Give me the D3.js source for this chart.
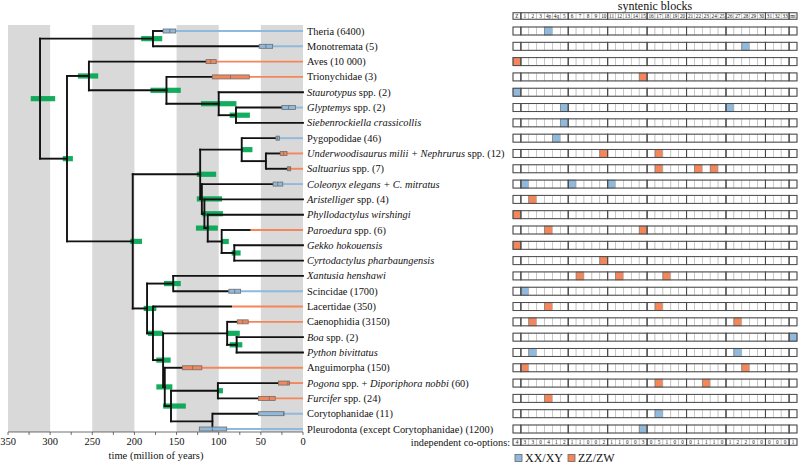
<!DOCTYPE html>
<html><head><meta charset="utf-8">
<script src="https://cdn.jsdelivr.net/npm/d3@7"></script>
<style>body{margin:0;background:#fff} svg{display:block} text{font-family:"Liberation Serif","Times New Roman",serif;fill:#111}</style>
</head><body><svg id="c" width="798" height="465"></svg>
<script>
// ---------- DATA ----------
const taxa = [
 "Theria (6400)","Monotremata (5)","Aves (10 000)","Trionychidae (3)",
 "*Staurotypus* spp. (2)","*Glyptemys* spp. (2)","*Siebenrockiella crassicollis*",
 "Pygopodidae (46)","*Underwoodisaurus milii + Nephrurus* spp. (12)","*Saltuarius* spp. (7)",
 "*Coleonyx elegans + C. mitratus*","*Aristelliger* spp. (4)","*Phyllodactylus wirshingi*",
 "*Paroedura* spp. (6)","*Gekko hokouensis*","*Cyrtodactylus pharbaungensis*","*Xantusia henshawi*",
 "Scincidae (1700)","Lacertidae (350)","Caenophidia (3150)","*Boa* spp. (2)","*Python bivittatus*",
 "Anguimorpha (150)","*Pogona* spp. + *Diporiphora nobbi* (60)","*Furcifer* spp. (24)",
 "Corytophanidae (11)","Pleurodonta (except Corytophanidae) (1200)"
];
// internal nodes: id, parent, age (Myr), credible interval [old, young]
const internalNodes = [
 {id:"root", parent:"", age:312, ci:[323,294]},
 {id:"mammalia", parent:"root", age:178, ci:[192,167]},
 {id:"sauria", parent:"root", age:280, ci:[285,273]},
 {id:"archelosauria", parent:"sauria", age:254, ci:[267,243]},
 {id:"testudines", parent:"archelosauria", age:162, ci:[181,145]},
 {id:"testudinoidea", parent:"testudines", age:100, ci:[121,79]},
 {id:"geoemydidae", parent:"testudinoidea", age:79.5, ci:[87,63]},
 {id:"squamata", parent:"sauria", age:202, ci:[205,191]},
 {id:"gekkota", parent:"squamata", age:122, ci:[126,103]},
 {id:"pygopodoidea", parent:"gekkota", age:72.7, ci:[73,60]},
 {id:"carphodactylidae", parent:"pygopodoidea", age:44, ci:null},
 {id:"gekkonoidea", parent:"gekkota", age:120, ci:[126,96]},
 {id:"g2", parent:"gekkonoidea", age:117, ci:[120,95]},
 {id:"g3", parent:"g2", age:113, ci:[127,101]},
 {id:"gekkonidae", parent:"g3", age:96.5, ci:[96,88]},
 {id:"gekkoninae", parent:"gekkonidae", age:81.5, ci:[84.6,74]},
 {id:"unidentata", parent:"squamata", age:185, ci:[189,174]},
 {id:"scinciformata", parent:"unidentata", age:154, ci:[165,145]},
 {id:"episquamata", parent:"unidentata", age:178, ci:[184,166]},
 {id:"toxicofera", parent:"episquamata", age:166, ci:[174,157]},
 {id:"serpentes", parent:"toxicofera", age:90, ci:[91,75]},
 {id:"booidea", parent:"serpentes", age:78.7, ci:[87,72]},
 {id:"angIgu", parent:"toxicofera", age:164, ci:[174,155]},
 {id:"iguania", parent:"angIgu", age:156.6, ci:[166,139]},
 {id:"acrodonta", parent:"iguania", age:101, ci:[101,95]},
 {id:"pleurodonta", parent:"iguania", age:107.5, ci:null}
];
const tipParent = ["mammalia","mammalia","archelosauria","testudines","testudinoidea","geoemydidae","geoemydidae",
 "pygopodoidea","carphodactylidae","carphodactylidae","gekkonoidea","g2","g3","gekkonidae","gekkoninae","gekkoninae",
 "scinciformata","scinciformata","episquamata","serpentes","booidea","booidea","angIgu","acrodonta","acrodonta",
 "pleurodonta","pleurodonta"];
// sex-chromosome system per tip: XY = XX/XY, ZW = ZZ/ZW
const sexSystem = ["XY","XY","ZW","ZW","XY","XY","XY","XY","ZW","ZW","XY","ZW","ZW","ZW","ZW","ZW","ZW",
 "XY","ZW","ZW","XY","XY","ZW","ZW","ZW","XY","XY"];
// branch colouring: age at which colour starts on tip branch (null = black)
const colourStart = [166,52,115,107.6,null,25,null,32,27,18.6,35.5,null,null,62,null,null,null,88,84,78,null,null,143,29,53,53,123];
// transition boxes [old, young, estimate]
const transitionBox = [[166,151,158],[52,36,44],[115,103,109.5],[107.6,63.7,86],null,[25,9,17],null,[32,28,30],
 [27,19,23],[18.6,14.6,16.5],[35.5,24,30],null,null,null,null,null,null,[88,74,81],null,[78,65,71.5],null,null,
 [143,120,131],[29,16,18],[53,33,40],[53,22.5,23],[123,90.5,107.5]];
const blockCols = ["Z","1","2","3","4p","4q","5","6","7","8","9","10","11","12","13","14","15","16","17","18","19",
 "20","21","22","23","24","25","26","27","28","29","30","31","32","33","mt"];
const blockGroups = [["Z"],["1","2","3","4p","4q","5"],["6","7","8","9","10"],["11","12","13","14","15"],
 ["16","17","18","19","20"],["21","22","23","24","25"],["26","27","28","29","30"],["31","32","33"],["mt"]];
const rowBlocks = [["4p"],["28"],["Z"],["15"],["Z"],["5","26"],["5"],["4q"],["10","17"],["17","22","24"],
 ["1","6","11"],["2"],["Z"],["4p","15"],["Z"],["10"],["7","12","18"],["1"],["4p","17"],["2","27"],["mt"],
 ["2","27"],["1","28"],["17","23"],["4p"],["17"],["15"]];
const coOptions = [4,3,3,0,4,1,2,1,1,0,0,2,1,1,0,0,3,0,5,1,0,0,0,1,1,1,0,1,2,2,0,0,0,0,0,1];
const timeTicks = [350,300,250,200,150,100,50,0];
const bands = [[350,300],[250,200],[150,100],[50,0]];

// ---------- STYLE ----------
const C = {XY:"#8fb9dd", ZW:"#f4865a", green:"#00a651", band:"#d9d9d9"};
const svg = d3.select("#c");
const x = d3.scaleLinear().domain([350,0]).range([8,303]);
const y = d3.scalePoint().domain(d3.range(taxa.length)).range([31,429]);

// bands
svg.append("g").selectAll("rect").data(bands).join("rect")
  .attr("x",d=>x(d[0])).attr("width",d=>x(d[1])-x(d[0]))
  .attr("y",25).attr("height",432-25).attr("fill",C.band);

// axis
const ax = svg.append("g");
ax.append("line").attr("x1",x(350)).attr("x2",x(0)).attr("y1",432).attr("y2",432).attr("stroke","#333").attr("stroke-width",0.7);
ax.selectAll("line.t").data(d3.range(350,-1,-25)).join("line").attr("class","t")
  .attr("x1",d=>x(d)).attr("x2",d=>x(d)).attr("y1",432).attr("y2",435).attr("stroke","#333").attr("stroke-width",0.7);
ax.selectAll("text").data(timeTicks).join("text")
  .attr("x",d=>x(d)).attr("y",444.5).attr("text-anchor","middle").attr("font-size",10.5).text(d=>d);
svg.append("text").attr("x",156).attr("y",459).attr("text-anchor","middle").attr("font-size",10.5).text("time (million of years)");

// hierarchy
const records = internalNodes.map(d=>({...d})).concat(taxa.map((t,i)=>({id:"t"+i, parent:tipParent[i], age:0, ci:null, tip:i})));
const root = d3.stratify().id(d=>d.id).parentId(d=>d.parent||null)(records);
root.eachAfter(n=>{
  if(n.data.tip!==undefined) n.yy = y(n.data.tip);
  else { const ys=n.children.map(c=>c.yy); n.yy=(d3.min(ys)+d3.max(ys))/2; n.y0=d3.min(ys); n.y1=d3.max(ys); }
});
const nodesAll = root.descendants();

// green CI bars
svg.append("g").selectAll("rect").data(nodesAll.filter(n=>n.data.ci)).join("rect")
  .attr("x",n=>x(n.data.ci[0])).attr("width",n=>x(n.data.ci[1])-x(n.data.ci[0]))
  .attr("y",n=>n.yy-2.6).attr("height",5.2).attr("fill",C.green).attr("opacity",0.92);

// branches
const br = svg.append("g").attr("fill","none").attr("stroke-linecap","square");
nodesAll.filter(n=>n.parent).forEach(n=>{
  const x0 = x(n.parent.data.age), x1 = x(n.data.age);
  const ti = n.data.tip;
  if(ti!==undefined && colourStart[ti]!==null){
    const xs = x(colourStart[ti]);
    br.append("line").attr("x1",x0).attr("x2",xs).attr("y1",n.yy).attr("y2",n.yy).attr("stroke","#111").attr("stroke-width",1.9).attr("stroke-linecap","butt");
    br.append("line").attr("x1",xs).attr("x2",x1).attr("y1",n.yy).attr("y2",n.yy).attr("stroke",C[sexSystem[ti]]).attr("stroke-width",1.9).attr("stroke-linecap","butt");
  } else {
    br.append("line").attr("x1",x0).attr("x2",x1).attr("y1",n.yy).attr("y2",n.yy).attr("stroke","#111").attr("stroke-width",1.9);
  }
});
nodesAll.filter(n=>n.children).forEach(n=>{
  br.append("line").attr("x1",x(n.data.age)).attr("x2",x(n.data.age)).attr("y1",n.y0).attr("y2",n.y1).attr("stroke","#111").attr("stroke-width",1.9);
});
// transition boxes
const bx = svg.append("g");
taxa.forEach((t,i)=>{
  const b = transitionBox[i]; if(!b) return;
  bx.append("rect").attr("x",x(b[0])).attr("width",x(b[1])-x(b[0])).attr("y",y(i)-2).attr("height",4)
    .attr("fill",C[sexSystem[i]]).attr("stroke","#6d6d6d").attr("stroke-width",0.8);
  bx.append("line").attr("x1",x(b[2])).attr("x2",x(b[2])).attr("y1",y(i)-2).attr("y2",y(i)+2).attr("stroke","#6d6d6d").attr("stroke-width",0.8);
});

// tip labels (with *italic* segments)
const lab = svg.append("g");
taxa.forEach((t,i)=>{
  const tx = lab.append("text").attr("x",307).attr("y",y(i)).attr("dy","0.34em").attr("font-size",10.4);
  t.split("*").forEach((s,k)=>{ if(s) tx.append("tspan").attr("font-style",k%2?"italic":"normal").text(s); });
});

// ---------- SYNTENIC BLOCK GRID ----------
const gx = d3.scaleBand().domain(blockCols).range([513,797]);
const bw = gx.bandwidth();
function drawRow(yc, h, hits, type, labels){
  const g = svg.append("g");
  g.selectAll("rect.c").data(blockCols).join("rect").attr("class","c")
    .attr("x",c=>gx(c)).attr("y",yc-h/2).attr("width",bw).attr("height",h)
    .attr("fill",c=>hits&&hits.includes(c)?C[type]:"#fff")
    .attr("stroke",c=>hits&&hits.includes(c)?"#777":"#bcbcbc").attr("stroke-width",0.7);
  g.selectAll("rect.g").data(blockGroups).join("rect").attr("class","g")
    .attr("x",d=>gx(d[0])).attr("y",yc-h/2).attr("width",d=>gx(d[d.length-1])+bw-gx(d[0])).attr("height",h)
    .attr("fill","none").attr("stroke","#4a4a4a").attr("stroke-width",1);
  if(labels){
    g.selectAll("text").data(blockCols).join("text")
      .attr("x",c=>gx(c)+bw/2).attr("y",yc).attr("dy","0.35em").attr("text-anchor","middle")
      .attr("font-size",5.2).text((c,k)=>labels[k]);
  }
}
svg.append("text").attr("x",655).attr("y",10).attr("text-anchor","middle").attr("font-size",12).text("syntenic blocks");
drawRow(16,6.5,null,null,blockCols);
taxa.forEach((t,i)=>drawRow(y(i),8,rowBlocks[i],sexSystem[i],null));
drawRow(442,6.5,null,null,coOptions);
svg.append("text").attr("x",510).attr("y",442).attr("dy","0.34em").attr("text-anchor","end").attr("font-size",10.3).text("independent co-options:");

// legend
const lg = svg.append("g");
[["XY","XX/XY",515],["ZW","ZZ/ZW",568]].forEach(d=>{
  lg.append("rect").attr("x",d[2]).attr("y",454.5).attr("width",7).attr("height",7).attr("fill",C[d[0]]).attr("stroke","#666").attr("stroke-width",0.8);
  lg.append("text").attr("x",d[2]+10).attr("y",458).attr("dy","0.34em").attr("font-size",12).text(d[1]);
});
</script></body></html>
